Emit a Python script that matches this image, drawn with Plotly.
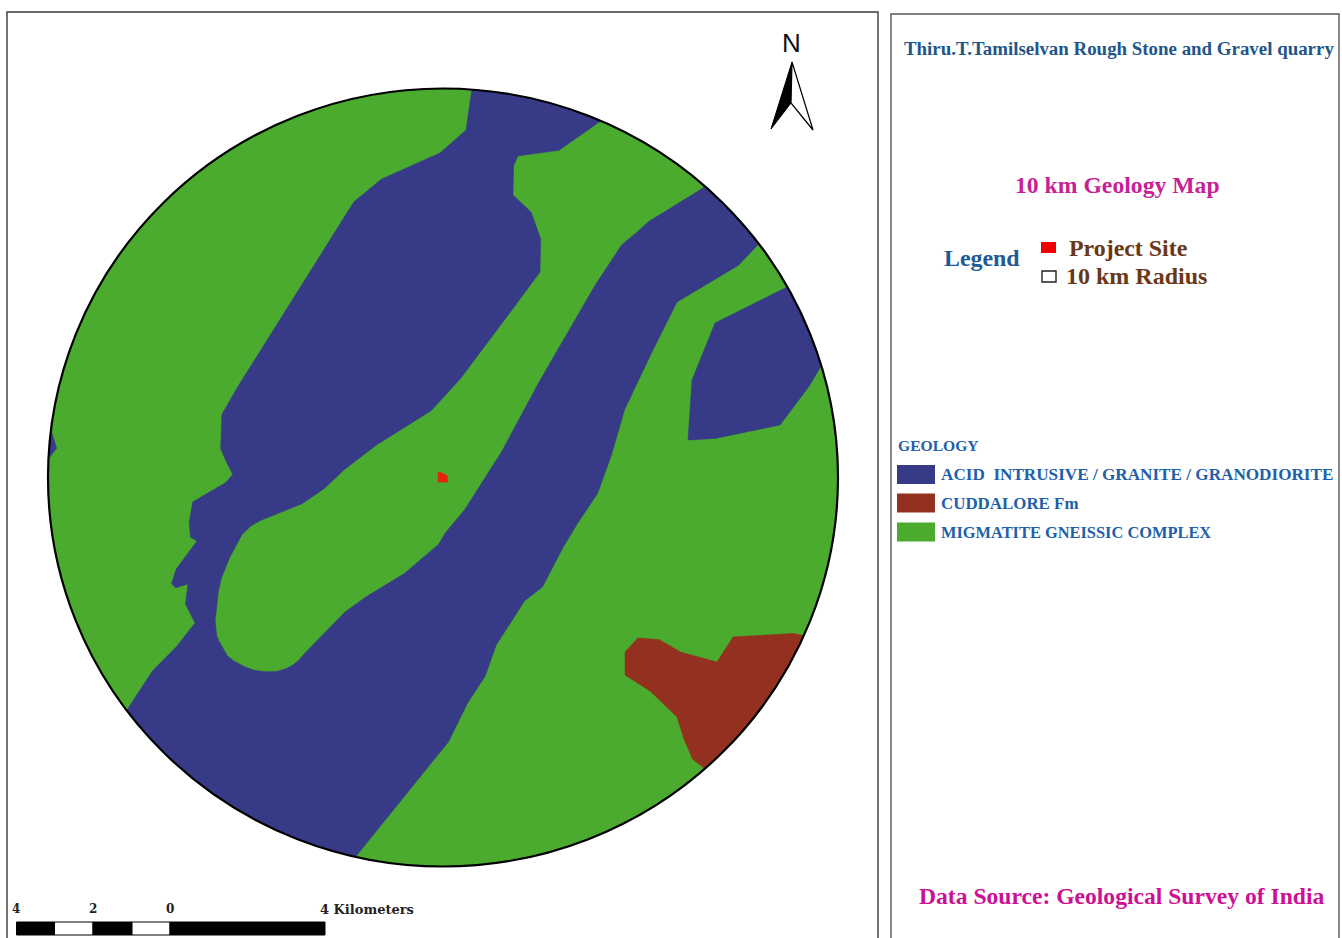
import numpy as np
import plotly.graph_objects as go

# --- geology units (page pixel coordinates) ---
acid_intrusive_main_x = [472, 466, 440, 383, 355, 330, 237, 222, 220, 225, 233, 227, 193, 189, 190, 197, 177, 171, 175, 188, 185, 195, 180, 153, 128,
    100, 200, 350, 357, 440, 448, 465, 485, 495, 523, 542, 557, 573, 597, 610, 623, 643, 677, 737, 757,
    780, 720, 703, 650, 640, 623, 600, 547, 507, 467, 447, 440, 407, 373, 347, 307, 302, 297, 290, 280, 270, 257, 247, 237, 228, 222, 217, 215, 217, 220, 227, 240, 248, 257, 273, 300, 323, 340, 373, 430, 457, 490, 517, 540, 541, 532, 513, 513, 518, 558, 580, 600, 610, 550, 472]
acid_intrusive_main_y = [88, 130, 153, 178, 200, 240, 388, 413, 447, 460, 474, 482, 501, 520, 537, 541, 567, 583, 588, 584, 603, 623, 643, 670, 708,
    760, 880, 880, 855, 753, 743, 707, 677, 647, 602, 588, 558, 530, 495, 460, 413, 370, 302, 267, 245,
    230, 170, 188, 220, 230, 243, 277, 367, 443, 507, 530, 543, 572, 592, 610, 650, 657, 662, 667, 671, 672, 671, 668, 663, 657, 647, 637, 623, 600, 582, 563, 537, 528, 522, 515, 505, 490, 473, 447, 412, 383, 340, 303, 272, 240, 213, 195, 167, 156, 151, 135, 122, 100, 70, 70]
acid_intrusive_east_x = [785, 715, 692, 688, 713, 780, 807, 820, 840, 860, 795]
acid_intrusive_east_y = [288, 323, 380, 440, 439, 425, 390, 367, 361, 280, 284]
acid_intrusive_west_x = [40, 52, 57, 48, 40]
acid_intrusive_west_y = [430, 433, 448, 458, 460]
cuddalore_x = [625, 637, 658, 680, 717, 733, 790, 803, 825, 780, 725, 703, 693, 685, 678, 653, 625]
cuddalore_y = [652, 638, 639, 652, 662, 637, 633, 635, 645, 720, 791, 767, 760, 743, 718, 693, 675]
project_site_x = [438, 440, 447, 448, 438]
project_site_y = [472, 472, 475, 482, 482]

# --- north arrow ---
north_dark_x = [792, 771, 791]
north_dark_y = [62, 129, 103]
north_light_x = [792, 813, 791]
north_light_y = [62, 130, 103]

# --- scale bar ---
scale_edges = [16.5, 54.5, 93, 132, 170, 325]
scale_colors = ["#000000", "#ffffff", "#000000", "#ffffff", "#000000"]
scale_labels = ["4", "2", "0", "4 Kilometers"]
scale_label_x = [10, 87, 164, 318]

# --- legend ---
geology_units = ["ACID\u00a0\u00a0INTRUSIVE / GRANITE / GRANODIORITE", "CUDDALORE Fm", "MIGMATITE GNEISSIC COMPLEX"]
geology_sizes = [17.15, 16.9, 16.4]
geology_colors = ["#363a87", "#93301f", "#4bab2e"]
geology_y = [474.5, 503, 532]

BLUE, BROWN, GREEN = geology_colors
CX, CY, RX, RY = 443, 477.5, 395, 389


def clipped(xs, ys):
    """Keep a unit's outline inside the 10 km radius ring."""
    px, py = [], []
    for i in range(len(xs) - 1):
        t = np.linspace(0, 1, 24, endpoint=False)
        px.extend(xs[i] + t * (xs[i + 1] - xs[i]))
        py.extend(ys[i] + t * (ys[i + 1] - ys[i]))
    px, py = np.array(px, float), np.array(py, float)
    rr = np.hypot((px - CX) / RX, (py - CY) / RY)
    k = np.where(rr > 1, 1 / rr, 1.0)
    return CX + (px - CX) * k, CY + (py - CY) * k


def area(xs, ys, colour):
    xs, ys = clipped(list(xs) + [xs[0]], list(ys) + [ys[0]])
    return go.Scatter(x=xs, y=ys, mode="lines", fill="toself", fillcolor=colour,
                      line=dict(color=colour, width=0.5), hoverinfo="skip", showlegend=False)


fig = go.Figure()
fig.add_trace(area(acid_intrusive_main_x, acid_intrusive_main_y, BLUE))
fig.add_trace(area(acid_intrusive_east_x, acid_intrusive_east_y, BLUE))
fig.add_trace(area(acid_intrusive_west_x, acid_intrusive_west_y, BLUE))
fig.add_trace(area(cuddalore_x, cuddalore_y, BROWN))
fig.add_trace(area(project_site_x, project_site_y, "#e6230f"))
fig.add_trace(go.Scatter(x=north_dark_x + north_dark_x[:1], y=north_dark_y + north_dark_y[:1], mode="lines", fill="toself",
                         fillcolor="#000000", line=dict(color="#000000", width=1), hoverinfo="skip", showlegend=False))
fig.add_trace(go.Scatter(x=north_light_x + north_light_x[:1], y=north_light_y + north_light_y[:1], mode="lines", fill="toself",
                         fillcolor="#ffffff", line=dict(color="#000000", width=1.2), hoverinfo="skip", showlegend=False))

shapes = [
    dict(type="circle", x0=CX - RX, x1=CX + RX, y0=CY - RY, y1=CY + RY, fillcolor=GREEN, line=dict(width=0), layer="below"),
    dict(type="circle", x0=CX - RX, x1=CX + RX, y0=CY - RY, y1=CY + RY, line=dict(color="#000000", width=2.2), layer="above"),
    dict(type="rect", x0=7, x1=878, y0=12, y1=945, line=dict(color="#3a3a3a", width=1.4)),
    dict(type="rect", x0=891, x1=1339, y0=14, y1=945, line=dict(color="#555555", width=1.4)),
    dict(type="rect", x0=1041, x1=1056, y0=242, y1=253, fillcolor="#f00000", line=dict(width=0)),
    dict(type="rect", x0=1042, x1=1056, y0=271, y1=282, fillcolor="#ffffff", line=dict(color="#222222", width=1.4)),
]
for i, colour in enumerate(scale_colors):
    shapes.append(dict(type="rect", x0=scale_edges[i], x1=scale_edges[i + 1], y0=922, y1=935, fillcolor=colour,
                       line=dict(color="#000000", width=1)))
for y, colour in zip(geology_y, geology_colors):
    shapes.append(dict(type="rect", x0=897, x1=935, y0=y - 9.5, y1=y + 9.5, fillcolor=colour, line=dict(width=0)))


def label(x, y, text, size, colour, anchor="left", family="Liberation Serif", bold=True):
    body = f"<b>{text}</b>" if bold else text
    return dict(x=x, y=y, xref="x", yref="y", text=body, showarrow=False, xanchor=anchor, yanchor="middle",
                font=dict(family=family, size=size, color=colour))


annotations = [
    label(1118.5, 48.5, "Thiru.T.Tamilselvan Rough Stone and Gravel quarry", 18.9, "#1f5688", "center"),
    label(1117, 184.5, "10 km Geology Map", 23.7, "#c71f96", "center"),
    label(942, 258, "Legend", 23.9, "#1f5a96"),
    label(1067, 248, "Project Site", 23.9, "#6a3818"),
    label(1064, 276, "10 km Radius", 24, "#6a3818"),
    label(896, 445.5, "GEOLOGY", 15.6, "#2160a8"),
    label(1121.5, 895.5, "Data Source: Geological Survey of India", 23.6, "#cc1096", "center"),
    label(791.5, 43, "N", 26, "#111111", "center", "Liberation Sans", False),
]
for text, y, size in zip(geology_units, geology_y, geology_sizes):
    annotations.append(label(939, y, text, size, "#2160a8"))
for text, x in zip(scale_labels, scale_label_x):
    annotations.append(label(x, 909, text, 13 if len(text) > 1 else 12, "#222222", family="DejaVu Serif"))

fig.update_layout(
    width=1342, height=938, margin=dict(l=0, r=0, t=0, b=0),
    paper_bgcolor="#ffffff", plot_bgcolor="#ffffff", showlegend=False,
    xaxis=dict(range=[0, 1342], visible=False, fixedrange=True),
    yaxis=dict(range=[938, 0], visible=False, fixedrange=True),
    shapes=shapes, annotations=annotations,
)
fig.write_html("out.html", config={"displayModeBar": False},
               post_script="document.body.style.margin='0';document.body.style.overflow='hidden';")
